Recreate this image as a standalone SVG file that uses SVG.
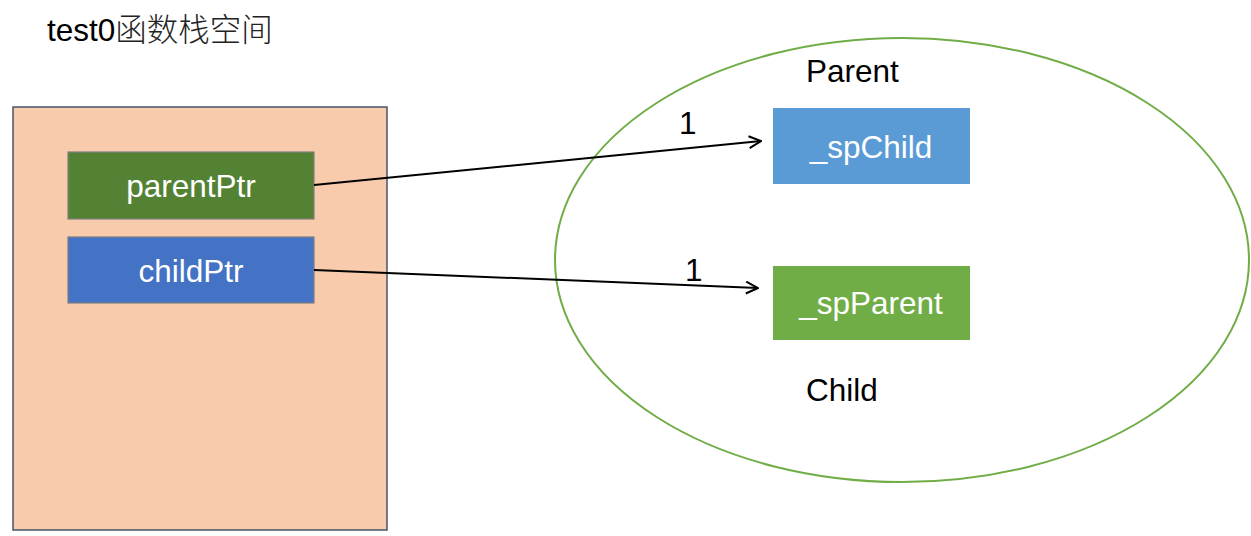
<svg xmlns="http://www.w3.org/2000/svg" width="1251" height="536" viewBox="0 0 1251 536">
<style>
text{font-family:"Liberation Sans","Noto Sans CJK SC",sans-serif;}
.lbl{fill:#fff;font-size:31.5px;text-anchor:middle;}
.blk{fill:#000;font-size:31.5px;}
.box{stroke:#7F7F7F;stroke-width:1.2;}
.conn{stroke:#000;stroke-width:2;fill:none;marker-end:url(#arr);}
</style>
<defs>
<marker id="arr" viewBox="0 0 14 14" refX="13" refY="7" markerWidth="14" markerHeight="14" markerUnits="userSpaceOnUse" orient="auto">
<path d="M1,1 L13,7 L1,13" fill="none" stroke="#000" stroke-width="2"/>
</marker>
</defs>
<rect width="1251" height="536" fill="#fff"/>
<text class="blk" x="47" y="41" style="font-size:31.5px">test0<tspan font-weight="300" fill="#222">函数栈空间</tspan></text>
<g id="stack">
<rect x="13" y="107" width="374" height="423" fill="#F8CBAD" stroke="#44546A" stroke-width="1.5"/>
</g>
<g id="parentPtr">
<rect class="box" x="68" y="152" width="246" height="67" fill="#548235"/>
<text class="lbl" x="191" y="197">parentPtr</text>
</g>
<g id="childPtr">
<rect class="box" x="68" y="237" width="246" height="66" fill="#4472C4"/>
<text class="lbl" x="191" y="282">childPtr</text>
</g>
<g id="objects">
<ellipse cx="902" cy="260" rx="347" ry="222" fill="none" stroke="#70AD47" stroke-width="2"/>
<text class="blk" x="806" y="82">Parent</text>
<text class="blk" x="806" y="401">Child</text>
</g>
<g id="spChild">
<rect x="773" y="108" width="197" height="76" fill="#5B9BD5"/>
<text class="lbl" x="871" y="158">_spChild</text>
</g>
<g id="spParent">
<rect x="773" y="266" width="197" height="74" fill="#70AD47"/>
<text class="lbl" x="871" y="314">_spParent</text>
</g>
<g id="connectors">
<line class="conn" x1="314" y1="185" x2="761" y2="141"/>
<line class="conn" x1="314" y1="270" x2="758" y2="288"/>
<text class="blk" x="679" y="134">1</text>
<text class="blk" x="685" y="281">1</text>
</g>
</svg>
